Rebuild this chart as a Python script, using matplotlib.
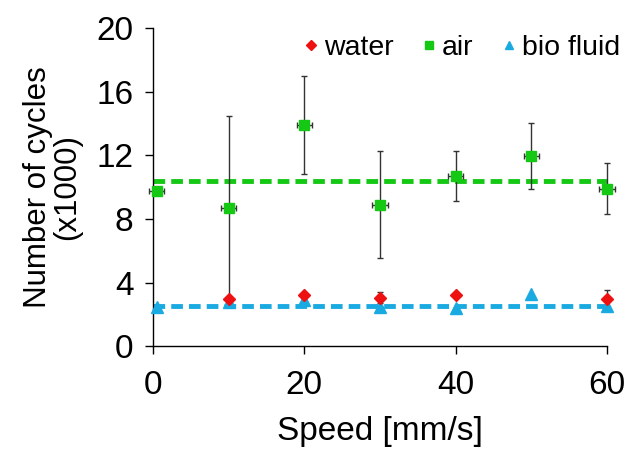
import matplotlib
matplotlib.use("Agg")
import matplotlib.pyplot as plt
from matplotlib.lines import Line2D

plt.rcParams['font.family'] = ['Liberation Sans', 'DejaVu Sans']

# Speeds [mm/s]
speed = [0.5, 10, 20, 30, 40, 50, 60]

# Air
air = [9.75, 8.72, 13.9, 8.9, 10.7, 11.97, 9.9]
air_err = [0.0, 5.77, 3.07, 3.38, 1.55, 2.1, 1.6]
air_xerr = [1.0, 1.0, 1.0, 1.0, 1.0, 1.0, 1.0]
air_mean = 10.37

# Water
water_speed = [10, 20, 30, 40, 60]
water = [2.96, 3.24, 3.05, 3.24, 2.98]
water_err = [0.0, 0.0, 0.35, 0.0, 0.55]

# Bio fluid
bio = [2.46, 2.77, 2.88, 2.46, 2.4, 3.26, 2.5]
bio_mean = 2.52

green = '#14c814'
red = '#ee1111'
blue = '#1aaae2'

fig = plt.figure(figsize=(6.27, 4.49), dpi=100)
ax = fig.add_axes([0.244, 0.229, 0.724, 0.708])

ax.plot([0, 60], [air_mean, air_mean], ls=(0, (2.4, 1.25)), lw=3.5, color=green, zorder=2)
ax.plot([0, 60], [bio_mean, bio_mean], ls=(0, (2.4, 1.25)), lw=3.5, color=blue, zorder=2)

eb_air = ax.errorbar(speed, air, yerr=air_err, xerr=air_xerr, fmt='s', ms=7.8, color=green,
                     ecolor='#333333', elinewidth=1, capsize=2.5, capthick=1, zorder=3)
eb_wat = ax.errorbar(water_speed, water, yerr=water_err, fmt='D', ms=6.5, color=red,
                     ecolor='#333333', elinewidth=1, capsize=2.5, capthick=1, zorder=3)
bio_pts, = ax.plot(speed, bio, '^', ms=8, color=blue, ls='none', zorder=3)

for art in [eb_air, eb_wat]:
    for child in art.get_children():
        child.set_clip_on(False)
bio_pts.set_clip_on(False)

ax.set_xlim(0, 60)
ax.set_ylim(0, 20)
ax.set_xticks([0, 20, 40, 60])
ax.set_yticks([0, 4, 8, 12, 16, 20])
ax.tick_params(labelsize=24, direction='out', length=6, width=1)
ax.tick_params(axis='x', pad=11)
ax.tick_params(axis='y', pad=8)
for s in ['top', 'right']:
    ax.spines[s].set_visible(False)
for s in ['left', 'bottom']:
    ax.spines[s].set_linewidth(1)

ax.set_xlabel('Speed [mm/s]', fontsize=24, labelpad=11)
ax.set_ylabel('Number of cycles\n(x1000)', fontsize=22.5, labelpad=10, linespacing=1.0)

handles = [
    Line2D([], [], marker='D', ms=5, color=red, ls='none'),
    Line2D([], [], marker='s', ms=6, color=green, ls='none'),
    Line2D([], [], marker='^', ms=6, color=blue, ls='none'),
]
ax.legend(handles, ['water', 'air', 'bio fluid'], ncol=3, frameon=False,
          loc='upper right', bbox_to_anchor=(1.085, 1.06), fontsize=20.5,
          handlelength=0.5, handletextpad=0.2, columnspacing=1.0)

fig.savefig('out.png', dpi=100)
